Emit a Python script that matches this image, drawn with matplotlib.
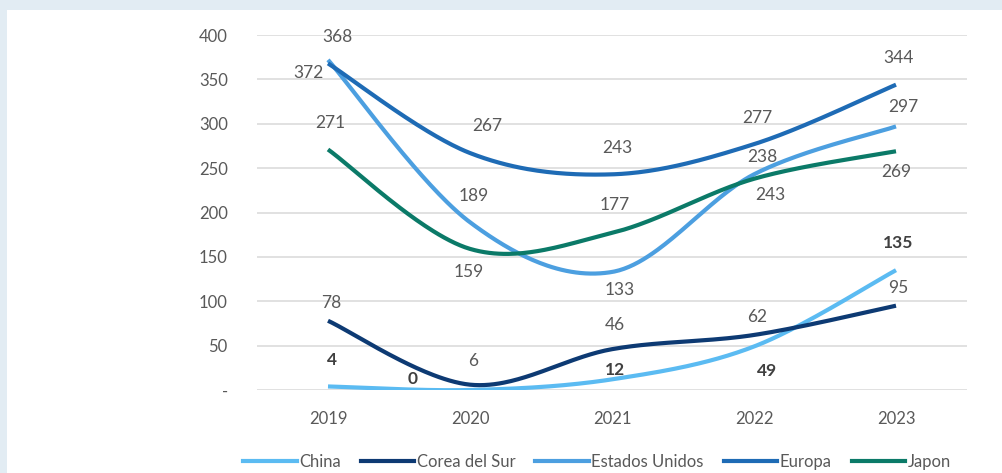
import numpy as np
import matplotlib
matplotlib.use("Agg")
import matplotlib.pyplot as plt
from matplotlib.patches import Rectangle
from matplotlib.lines import Line2D

plt.rcParams["font.family"] = ["Lato", "DejaVu Sans"]

years = ["2019", "2020", "2021", "2022", "2023"]
china = [4, 0, 12, 49, 135]
corea = [78, 6, 46, 62, 95]
eeuu = [372, 189, 133, 243, 297]
europa = [368, 267, 243, 277, 344]
japon = [271, 159, 177, 238, 269]

names = ["China", "Corea del Sur", "Estados Unidos", "Europa", "Japon"]
colors = ["#5bbbf2", "#0d3a73", "#4c9fe0", "#1e6bb5", "#0b7a68"]

# label offsets (pixels) from each point, per series
offsets = {
    "China": [(4, 26), (-57, 11), (3, 9), (13, -24), (2, 27)],
    "Corea del Sur": [(3, 18), (3, 24), (3, 24), (3, 18), (2, 18)],
    "Estados Unidos": [(-20, -13), (4, 26), (8, -18), (16, -21), (7, 19)],
    "Europa": [(9, 26), (17, 27), (5, 26), (3, 26), (2, 27)],
    "Japon": [(2, 26), (-1, -23), (3, 28), (8, 22), (0, -21)],
}


def smooth(y, n=60):
    # Bezier segments with Catmull-Rom style control points (spreadsheet "smoothed line")
    y = np.asarray(y, dtype=float)
    x = np.arange(len(y), dtype=float)
    px = np.concatenate([[x[0]], x, [x[-1]]])
    py = np.concatenate([[y[0]], y, [y[-1]]])
    xs, ys = [], []
    t = np.linspace(0, 1, n)
    for i in range(len(y) - 1):
        p0 = np.array([px[i + 1], py[i + 1]])
        p3 = np.array([px[i + 2], py[i + 2]])
        c1 = p0 + (np.array([px[i + 2], py[i + 2]]) - np.array([px[i], py[i]])) / 6
        c2 = p3 - (np.array([px[i + 3], py[i + 3]]) - np.array([px[i + 1], py[i + 1]])) / 6
        b = ((1 - t) ** 3)[:, None] * p0 + (3 * (1 - t) ** 2 * t)[:, None] * c1 \
            + (3 * (1 - t) * t ** 2)[:, None] * c2 + (t ** 3)[:, None] * p3
        xs.append(b[:, 0])
        ys.append(b[:, 1])
    return np.concatenate(xs), np.concatenate(ys)


fig = plt.figure(figsize=(10.02, 4.73), dpi=100, facecolor="#e2ecf3")
fig.patches.append(Rectangle((7 / 1002, 0), 1, 1 - 10 / 473, transform=fig.transFigure,
                             facecolor="white", edgecolor="none", zorder=-10))

ax = fig.add_axes([257 / 1002, 83 / 473, 710 / 1002, 355 / 473])
ax.set_facecolor("none")
ax.set_xlim(-0.5, 4.5)
ax.set_ylim(0, 400)
ax.set_yticks(range(0, 401, 50))
ax.set_yticklabels(["-"] + [str(v) for v in range(50, 401, 50)])
ax.set_xticks(range(len(years)))
ax.set_xticklabels(years)
ax.tick_params(length=0, labelsize=12, labelcolor="#595959")
ax.tick_params(axis="y", pad=21)
ax.tick_params(axis="x", pad=15)
ax.grid(axis="y", color="#d9d9d9", linewidth=1.1)
ax.set_axisbelow(True)
for s in ax.spines.values():
    s.set_visible(False)

series = [china, corea, eeuu, europa, japon]
for name, vals, c in zip(names, series, colors):
    xs, ys = smooth(vals)
    ax.plot(xs, ys, color=c, linewidth=3.0, solid_capstyle="butt", zorder=3)

for name, vals in zip(names, series):
    bold = name == "China"
    for i, v in enumerate(vals):
        dx, dy = offsets[name][i]
        ax.annotate(str(v), (i, v), xytext=(dx, dy), textcoords="offset pixels",
                    ha="center", va="center", fontsize=12.5,
                    color="#404040" if bold else "#595959",
                    fontweight="bold" if bold else "normal", zorder=5)

handles = [Line2D([], [], color=c, linewidth=3.0) for c in colors]
fig.legend(handles, names, loc="center", bbox_to_anchor=(597 / 1002, 1 - 462 / 473),
           ncol=5, frameon=False, fontsize=12, handlelength=3.2, handletextpad=0.15,
           columnspacing=1.2, labelcolor="#595959")

fig.savefig("out.png", dpi=100)
